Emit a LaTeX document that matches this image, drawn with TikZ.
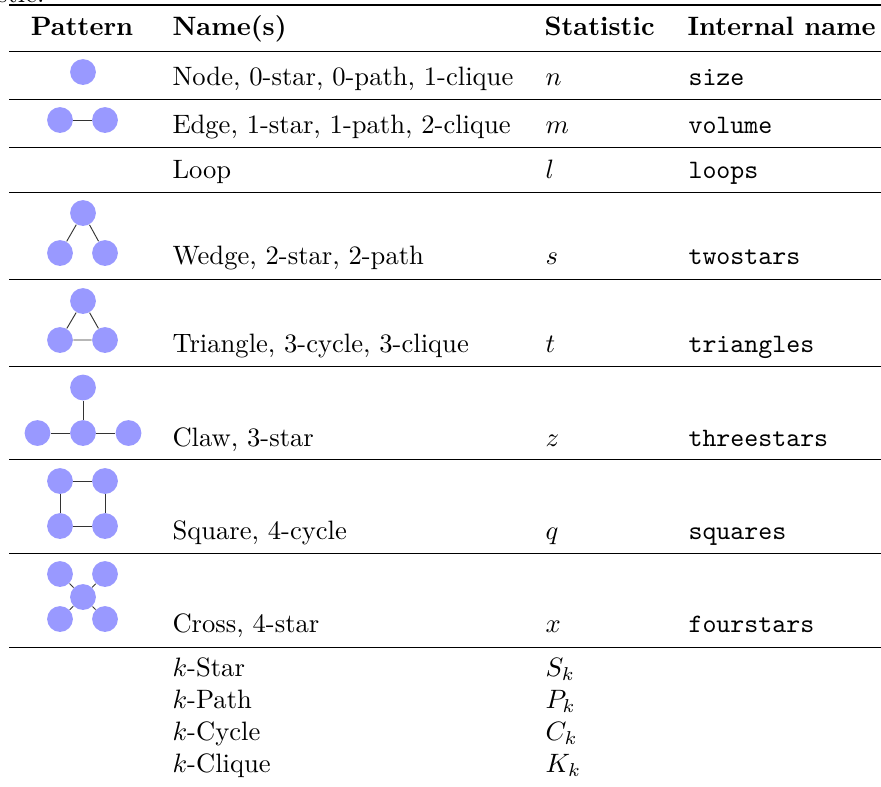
\documentclass[tikz,border=0pt]{standalone}
\begin{document}
\begin{tikzpicture}[x=0.376pt,y=-0.376pt,
  v/.style={circle,fill=blue!40,inner sep=0pt,minimum size=9.7pt},
  e/.style={line width=0.35pt,black!80},
  txt/.style={anchor=base west,inner sep=0pt},
  rule/.style={line width=0.5pt}]
\useasboundingbox (0,0) rectangle (881,786);
\node[anchor=base east,inner sep=0pt] (cap) at (45,2) {statistic.};
\draw[line width=0.8pt] (9,5.3) -- (890,5.3);
\foreach \y in {51.5,99.3,147.3,192.7,279.3,366.7,459.3,553.7,647.3}
  \draw[rule] (9,\y) -- (890,\y);
\node[anchor=base,inner sep=0pt] (hpat) at (82,35) {\textbf{Pattern}};
\node[txt] (hname) at (172,35) {\textbf{Name(s)}};
\node[txt] (hstat) at (544,35) {\textbf{Statistic}};
\node[txt] (hint) at (687,35) {\textbf{Internal name}};
\node[txt] (name1) at (172,85) {Node, 0-star, 0-path, 1-clique};
\node[txt] (stat1) at (545,85) {$n$};
\node[txt] (int1) at (688,85) {\texttt{size}};
\node[txt] (name2) at (172,133) {Edge, 1-star, 1-path, 2-clique};
\node[txt] (stat2) at (545,133) {$m$};
\node[txt] (int2) at (688,133) {\texttt{volume}};
\node[txt] (name3) at (172,178) {Loop};
\node[txt] (stat3) at (545,178) {$l$};
\node[txt] (int3) at (688,178) {\texttt{loops}};
\node[txt] (name4) at (172,264) {Wedge, 2-star, 2-path};
\node[txt] (stat4) at (545,264) {$s$};
\node[txt] (int4) at (688,264) {\texttt{twostars}};
\node[txt] (name5) at (172,352) {Triangle, 3-cycle, 3-clique};
\node[txt] (stat5) at (545,352) {$t$};
\node[txt] (int5) at (688,352) {\texttt{triangles}};
\node[txt] (name6) at (172,446) {Claw, 3-star};
\node[txt] (stat6) at (545,446) {$z$};
\node[txt] (int6) at (688,446) {\texttt{threestars}};
\node[txt] (name7) at (172,539) {Square, 4-cycle};
\node[txt] (stat7) at (545,539) {$q$};
\node[txt] (int7) at (688,539) {\texttt{squares}};
\node[txt] (name8) at (172,632) {Cross, 4-star};
\node[txt] (stat8) at (545,632) {$x$};
\node[txt] (int8) at (688,632) {\texttt{fourstars}};
\node[txt] (kstar) at (172,676) {$k$-Star};
\node[txt] (kpath) at (172,708) {$k$-Path};
\node[txt] (kcycle) at (172,740) {$k$-Cycle};
\node[txt] (kclique) at (172,772) {$k$-Clique};
\node[txt] (sk) at (545,676) {$S_k$};
\node[txt] (pk) at (545,708) {$P_k$};
\node[txt] (ck) at (545,740) {$C_k$};
\node[txt] (kk) at (545,772) {$K_k$};
\node[v] (node) at (83,72) {};
\node[v] (edgea) at (60,120) {};
\node[v] (edgeb) at (105,120) {};
\draw[e] (edgea) -- (edgeb);
\node[v] (wtop) at (83,213) {};
\node[v] (wleft) at (60,253) {};
\node[v] (wright) at (105,253) {};
\draw[e] (wtop) -- (wleft);
\draw[e] (wtop) -- (wright);
\node[v] (ttop) at (83,301) {};
\node[v] (tleft) at (60,340) {};
\node[v] (tright) at (105,340) {};
\draw[e] (ttop) -- (tleft) -- (tright) -- (ttop);
\node[v] (ctop) at (83,387.5) {};
\node[v] (cleft) at (37.5,433) {};
\node[v] (cmid) at (83,433) {};
\node[v] (cright) at (128.5,433) {};
\draw[e] (cmid) -- (ctop);
\draw[e] (cmid) -- (cleft);
\draw[e] (cmid) -- (cright);
\node[v] (sqa) at (60,481) {};
\node[v] (sqb) at (105,481) {};
\node[v] (sqc) at (105,526) {};
\node[v] (sqd) at (60,526) {};
\draw[e] (sqa) -- (sqb) -- (sqc) -- (sqd) -- (sqa);
\node[v] (xa) at (60,574) {};
\node[v] (xb) at (105,574) {};
\node[v] (xc) at (105,619) {};
\node[v] (xd) at (60,619) {};
\node[v] (xmid) at (83,597) {};
\draw[e] (xmid) -- (xa);
\draw[e] (xmid) -- (xb);
\draw[e] (xmid) -- (xc);
\draw[e] (xmid) -- (xd);
\end{tikzpicture}
\end{document}
